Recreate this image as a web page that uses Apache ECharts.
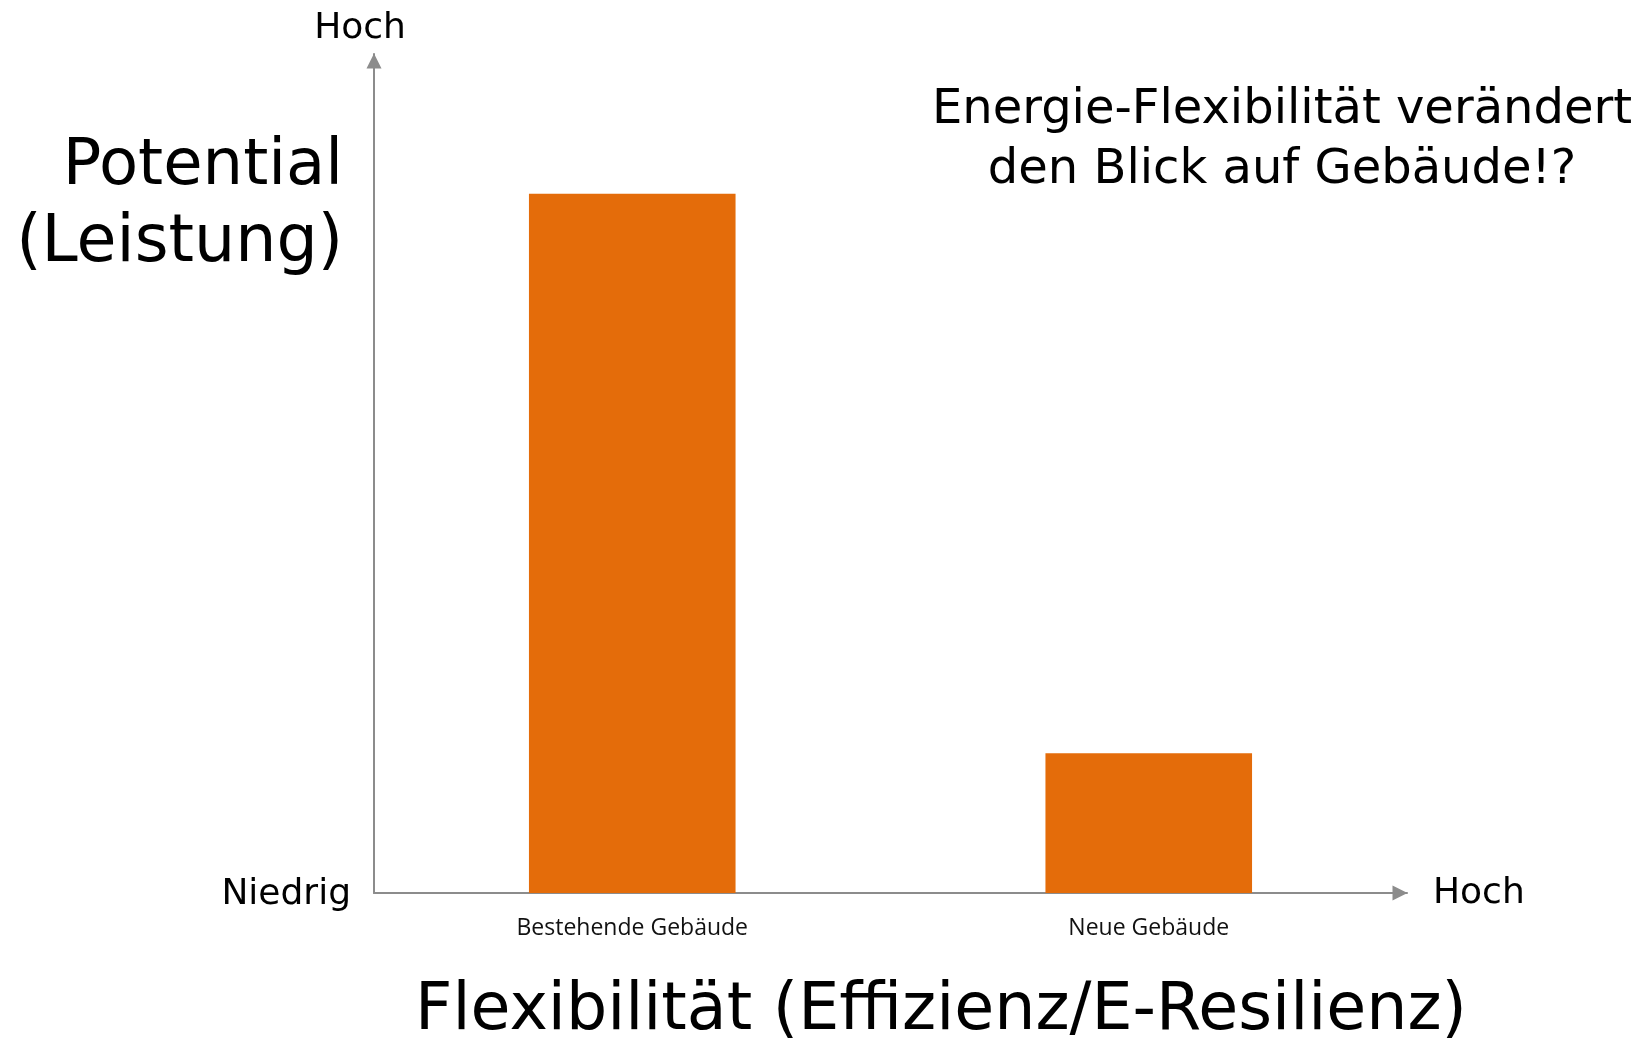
<!DOCTYPE html>
<html>
<head>
<meta charset="utf-8">
<script src="https://cdn.jsdelivr.net/npm/echarts@6/dist/echarts.min.js"></script>
<style>
html,body{margin:0;padding:0;background:#fff;}
#chart{width:1645px;height:1040px;}
</style>
</head>
<body>
<div id="chart"></div>
<script>
const categories = ['Bestehende Gebäude', 'Neue Gebäude'];
const potentialValues = [5, 1];
const yMax = 6;
const titleLines = ['Energie-Flexibilität verändert', 'den Blick auf Gebäude!?'];
const yAxisTitle = ['Potential', '(Leistung)'];
const xAxisTitle = 'Flexibilität (Effizienz/E-Resilienz)';
const lowLabel = 'Niedrig';
const highLabel = 'Hoch';

const chart = echarts.init(document.getElementById('chart'), null, {renderer: 'canvas'});
const F = 'DejaVu Sans';
const axisGray = '#8c8c8c';

chart.setOption({
  animation: false,
  backgroundColor: '#ffffff',
  grid: {left: 374, top: 54, width: 1033, height: 839, containLabel: false},
  xAxis: {
    type: 'category',
    data: categories,
    boundaryGap: true,
    axisLine: {show: true, lineStyle: {color: axisGray, width: 2}, symbol: ['none', 'triangle'], symbolSize: [15, 15], symbolOffset: [0, -7]},
    axisTick: {show: false},
    splitLine: {show: false},
    axisLabel: {color: '#111', fontFamily: 'Open Sans', fontSize: 23, margin: 23, lineHeight: 25}
  },
  yAxis: {
    type: 'value',
    min: 0,
    max: yMax,
    axisLine: {show: true, lineStyle: {color: axisGray, width: 2}, symbol: ['none', 'triangle'], symbolSize: [15, 15], symbolOffset: [0, -7]},
    axisTick: {show: false},
    splitLine: {show: false},
    axisLabel: {show: false}
  },
  series: [{
    type: 'bar',
    data: potentialValues,
    barWidth: '40%',
    itemStyle: {color: '#E46C0A'},
    silent: true
  }],
  graphic: [
    {type: 'text', x: 360, y: 29, style: {text: highLabel, font: '36px "' + F + '"', fill: '#000', align: 'center', verticalAlign: 'middle'}},
    {type: 'text', x: 351, y: 895, style: {text: lowLabel, font: '36px "' + F + '"', fill: '#000', align: 'right', verticalAlign: 'middle'}},
    {type: 'text', x: 1433, y: 894, style: {text: highLabel, font: '36px "' + F + '"', fill: '#000', align: 'left', verticalAlign: 'middle'}},
    {type: 'text', x: 343, y: 167, style: {text: yAxisTitle[0], font: '64px "' + F + '"', fill: '#000', align: 'right', verticalAlign: 'middle'}},
    {type: 'text', x: 343, y: 244, style: {text: yAxisTitle[1], font: '65px "' + F + '"', fill: '#000', align: 'right', verticalAlign: 'middle'}},
    {type: 'text', x: 1282, y: 111, style: {text: titleLines[0], font: '48px "' + F + '"', fill: '#000', align: 'center', verticalAlign: 'middle'}},
    {type: 'text', x: 1282, y: 171, style: {text: titleLines[1], font: '48px "' + F + '"', fill: '#000', align: 'center', verticalAlign: 'middle'}},
    {type: 'text', x: 941, y: 1012, style: {text: xAxisTitle, font: '65px "' + F + '"', fill: '#000', align: 'center', verticalAlign: 'middle'}}
  ]
});
</script>
</body>
</html>
